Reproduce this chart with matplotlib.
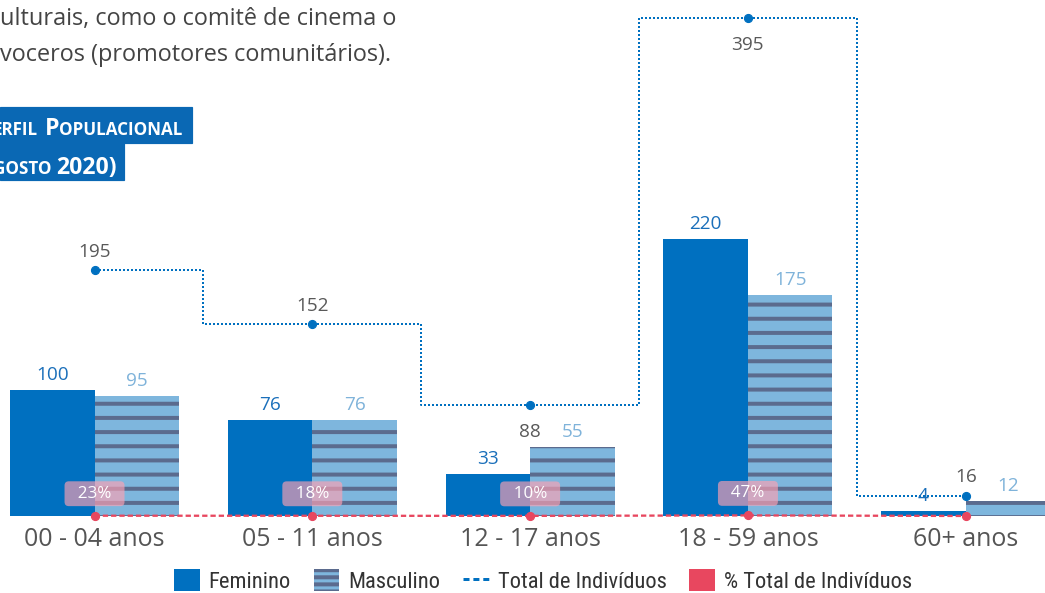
import matplotlib
matplotlib.use('Agg')
import matplotlib.pyplot as plt
from matplotlib import font_manager
from matplotlib.patches import Rectangle, Patch
from matplotlib.lines import Line2D
import numpy as np

## Data
categories = ['00 - 04 anos', '05 - 11 anos', '12 - 17 anos', '18 - 59 anos', '60+ anos']
feminino = [100, 76, 33, 220, 4]
masculino = [95, 76, 55, 175, 12]
total = [195, 152, 88, 395, 16]
pct = [0.23, 0.18, 0.10, 0.47, 0.02]
pct_labels = ['23%', '18%', '10%', '47%', '']

## Layout / colours
W, H, DPI = 1045, 593, 85
PX = 72 / DPI  # points per pixel

BLUE = '#0070c0'
LIGHT = '#7eb6dd'
STRIPE = '#5b6b8e'
RED = '#e8475f'
GRAY = '#595959'
TITLE_BLUE = '#0a68b4'

plt.rcParams['font.family'] = ['Open Sans', 'DejaVu Sans']
plt.rcParams['hatch.linewidth'] = 4 * PX

# the legend uses a condensed face in the original; pick the narrowest one available
installed = {f.name for f in font_manager.fontManager.ttflist}
if 'Roboto Condensed' in installed:
    legend_font, legend_px = 'Roboto Condensed', 22.5
elif 'Liberation Sans Narrow' in installed:
    legend_font, legend_px = 'Liberation Sans Narrow', 22
else:
    legend_font, legend_px = 'Liberation Sans', 19

fig = plt.figure(figsize=(W / DPI, H / DPI), dpi=DPI)
ax = fig.add_axes([0, 77 / H, 1, 516 / H])

x = np.arange(len(categories))
bw = 0.388
ax.bar(x - bw / 2, feminino, bw, color=BLUE, zorder=2)
ax.bar(x + bw / 2, masculino, bw, color=LIGHT, hatch='-', edgecolor=STRIPE,
       linewidth=0, zorder=2)

# total line (dotted steps) and % line (dashed)
ax.plot(x, total, drawstyle='steps-mid', color=BLUE, lw=2 * PX,
        linestyle=(0, (1, 1)), zorder=4)
ax.plot(x, total, 'o', color=BLUE, ms=8 * PX, zorder=5)
ax.plot(x, pct, color=RED, lw=2.3 * PX, linestyle=(0, (2.3, 1.3)),
        clip_on=False, zorder=4)
ax.plot(x, pct, 'o', color=RED, ms=8 * PX, clip_on=False, zorder=5)

## Labels
for i in range(len(x)):
    ax.annotate(str(feminino[i]), (x[i] - bw / 2, feminino[i]), xytext=(0, 15 * PX),
                textcoords='offset points', ha='center', va='center',
                color='#1a6fba', fontsize=19 * PX, zorder=6)
    ax.annotate(str(masculino[i]), (x[i] + bw / 2, masculino[i]), xytext=(0, 15 * PX),
                textcoords='offset points', ha='center', va='center',
                color='#7fb3da', fontsize=19 * PX, zorder=6)

total_offsets = [18, 18, -27, -27, 19]
for i in range(len(x)):
    ax.annotate(str(total[i]), (x[i], total[i]), xytext=(0, total_offsets[i] * PX),
                textcoords='offset points', ha='center', va='center',
                color=GRAY, fontsize=19 * PX, zorder=6)

for i in range(len(x)):
    if pct_labels[i]:
        ax.annotate('  ' + pct_labels[i] + '  ', (x[i], pct[i]), xytext=(0, 22 * PX),
                    textcoords='offset points', ha='center', va='center',
                    color='white', fontsize=17 * PX, zorder=7,
                    bbox=dict(boxstyle='round,pad=0.26,rounding_size=0.25',
                              fc=(1.0, 0.63, 0.70), ec='none', alpha=0.65))

ax.set_xlim(-0.434, 4.364)
ax.set_ylim(0, 409.5)
ax.set_xticks(x, categories, fontsize=25 * PX, color='#555555')
ax.set_yticks([])
ax.tick_params(length=0, pad=11 * PX)
for s in ax.spines.values():
    s.set_visible(False)
ax.patch.set_visible(False)

## Legend
handles = [
    Patch(facecolor=BLUE),
    Patch(facecolor=LIGHT, hatch='--', edgecolor=STRIPE, linewidth=0),
    Line2D([], [], color=BLUE, lw=3 * PX, linestyle=(0, (2, 1.3))),
    Patch(facecolor=RED),
]
labels = ['Feminino', 'Masculino', 'Total de Indivíduos', '% Total de Indivíduos']
fig.legend(handles, labels, loc='center', bbox_to_anchor=(543 / W, 1 - 581 / H),
           ncol=4, frameon=False,
           prop=dict(family=[legend_font, 'DejaVu Sans'], size=legend_px * PX),
           handlelength=1.15, handleheight=1.15, handletextpad=0.4,
           columnspacing=1.0, labelcolor='#333333')

## Surrounding text (cropped from the page)
fig.text(0, 1 - 19 / H, 'ulturais, como o comitê de cinema o', ha='left', va='center',
         fontsize=23.5 * PX, color='#444444')
fig.text(0, 1 - 55 / H, 'voceros (promotores comunitários).', ha='left', va='center',
         fontsize=23.5 * PX, color='#444444')

fig.add_artist(Rectangle((0, 1 - 143 / H), 192 / W, 36 / H, transform=fig.transFigure,
                         color=TITLE_BLUE, zorder=1))
fig.add_artist(Rectangle((0, 1 - 180 / H), 124 / W, 37 / H, transform=fig.transFigure,
                         color=TITLE_BLUE, zorder=1))

renderer = fig.canvas.get_renderer()


def piece(xpx, ybase, s, size, ha):
    return fig.text(xpx / W, 1 - ybase / H, s, ha=ha, va='baseline',
                    fontsize=size * PX, color='white', fontweight='bold',
                    family=['Open Sans', 'DejaVu Sans'], zorder=3)


def wpx(t):
    return t.get_window_extent(renderer).width


t = piece(45, 135, 'P', 23, 'left')
piece(45 + wpx(t), 135, 'OPULACIONAL', 17, 'left')
t = piece(38, 135, 'ERFIL', 17, 'right')
piece(38 - wpx(t), 135, 'P', 23, 'right')

piece(56, 174, '2020)', 23, 'left')
t = piece(52, 174, 'GOSTO', 17, 'right')
piece(52 - wpx(t), 174, '(A', 23, 'right')

fig.savefig('out.png', dpi=DPI)
